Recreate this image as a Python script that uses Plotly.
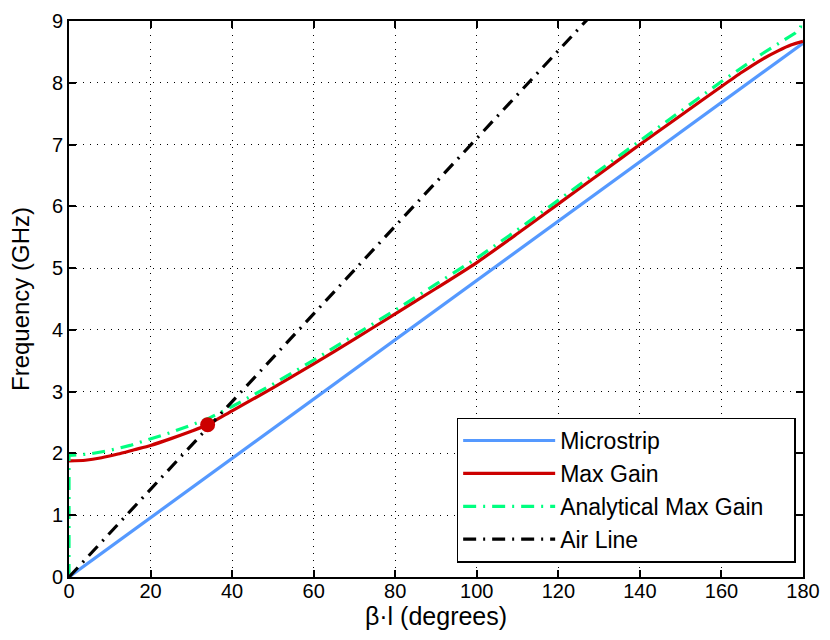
import plotly.graph_objects as go

# ---- data ----
micro_x = [0, 180]
micro_y = [0, 8.64]

gain_x = [0, 4, 8, 12, 16, 20, 25, 30, 34, 40, 50, 60, 70, 80, 90, 100, 110, 120, 130, 140, 150, 160, 165, 170, 174, 177, 180]
gain_y = [1.88, 1.89, 1.93, 1.99, 2.06, 2.13, 2.24, 2.36, 2.465, 2.69, 3.06, 3.45, 3.85, 4.26, 4.67, 5.09, 5.56, 6.04, 6.52, 7.00, 7.47, 7.94, 8.17, 8.38, 8.52, 8.61, 8.67]

anal_x = [0, 0, 5, 10, 15, 20, 25, 30, 34, 40, 50, 60, 70, 80, 90, 100, 110, 120, 130, 140, 150, 160, 170, 175, 178, 179.4, 179.9]
anal_y = [0, 1.97, 1.99, 2.05, 2.13, 2.23, 2.34, 2.46, 2.56, 2.76, 3.12, 3.51, 3.91, 4.32, 4.74, 5.16, 5.62, 6.10, 6.59, 7.07, 7.55, 8.02, 8.47, 8.68, 8.80, 8.90, 9.6]

air_x = [0, 180]
air_y = [0, 12.78]

point_x = [34]
point_y = [2.465]

x_ticks = [0, 20, 40, 60, 80, 100, 120, 140, 160, 180]
y_ticks = [0, 1, 2, 3, 4, 5, 6, 7, 8, 9]

series_names = ["Microstrip", "Max Gain", "Analytical Max Gain\u00a0\u00a0\u00a0\u00a0", "Air Line"]

FONT = "Liberation Sans, Arial, sans-serif"

fig = go.Figure()
fig.add_trace(go.Scatter(x=micro_x, y=micro_y, mode="lines", name=series_names[0],
                         line=dict(color="#5599ff", width=3.2)))
fig.add_trace(go.Scatter(x=gain_x, y=gain_y, mode="lines", name=series_names[1],
                         line=dict(color="#cc0000", width=3.2, shape="spline", smoothing=0.6)))
fig.add_trace(go.Scatter(x=anal_x, y=anal_y, mode="lines", name=series_names[2],
                         line=dict(color="#00ff80", width=3.2, dash="13px,7px,2px,7px")))
fig.add_trace(go.Scatter(x=air_x, y=air_y, mode="lines", name=series_names[3],
                         line=dict(color="black", width=3.2, dash="13px,7px,2px,7px")))
fig.add_trace(go.Scatter(x=point_x, y=point_y, mode="markers", showlegend=False,
                         marker=dict(color="#cc0000", size=15)))

axis_common = dict(
    showline=True, linecolor="black", linewidth=2, mirror="ticks",
    ticks="inside", ticklen=7, tickwidth=1.5, tickcolor="black",
    showgrid=True, gridcolor="black", gridwidth=1, griddash="1px,6px",
    zeroline=False, tickfont=dict(family=FONT, size=20, color="black"),
)

fig.update_xaxes(range=[0, 180], tickvals=x_ticks, ticktext=[str(t) for t in x_ticks],
                 ticklabelstandoff=-5,
                 title=dict(text="β·l (degrees)", font=dict(family=FONT, size=25, color="black"), standoff=0),
                 **axis_common)
fig.update_yaxes(range=[0, 9], tickvals=y_ticks, ticktext=[str(t) for t in y_ticks],
                 title=dict(text="Frequency (GHz)", font=dict(family=FONT, size=24, color="black"), standoff=15),
                 **axis_common)

fig.update_layout(
    width=830, height=640,
    margin=dict(l=69, r=21, t=10, b=63),
    paper_bgcolor="white", plot_bgcolor="white",
    font=dict(family=FONT, color="black"),
    legend=dict(x=0.99, y=0.026, xanchor="right", yanchor="bottom",
                bgcolor="white", bordercolor="black", borderwidth=1.5,
                font=dict(family=FONT, size=23, color="black"),
                itemwidth=92, tracegroupgap=0),
)

fig.write_html("out.html")
